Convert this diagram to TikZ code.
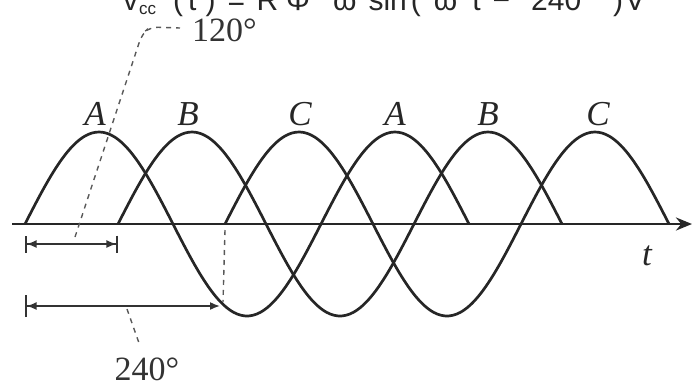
\documentclass[tikz,border=0pt]{standalone}
\usepackage{fontspec}
\setmainfont{Liberation Serif}
\newfontfamily\eqfont{Liberation Sans}
\usetikzlibrary{arrows.meta,positioning,calc}

\begin{document}
\begin{tikzpicture}[
        x=1pt, y=-1pt,
        wave/.style={line width=2.7pt, black!85},
        axisline/.style={line width=2.9pt, black!85, -{Stealth[length=16pt,width=13pt]}},
        dimline/.style={line width=1.6pt, black!80},
        guide/.style={line width=1.4pt, black!65, dash pattern=on 5pt off 5pt},
        phase/.style={font=\fontsize{35}{40}\selectfont\itshape, text=black!85},
        angle/.style={font=\fontsize{34}{40}\selectfont, text=black!80, inner sep=0pt}
    ]
    \useasboundingbox (0,0) rectangle (692,381);

    % Equation (cut off at the top)
    \begin{scope}
        \clip (0,0) rectangle (692,381);
        \node[anchor=base west, inner sep=0pt, text=black!85, font=\eqfont\fontsize{30}{36}\selectfont]
            (eq) at (123,10) {v\kern1pt\raisebox{-4pt}{\fontsize{17}{17}\selectfont cc}\hspace{17pt}(\hspace{5pt}t\hspace{9pt})\hspace{12pt}=\hspace{11.5pt}R\hspace{8pt}Φ\hspace{23pt}ω\hspace{12pt}sin\hspace{4pt}(\hspace{13pt}ω\hspace{15pt}t\hspace{12pt}−\hspace{21pt}240°\hspace{20pt})\hspace{2pt}V};
    \end{scope}

    % Time axis
    \coordinate (o) at (12,224);
    \coordinate (tend) at (692,224);
    \draw[axisline] (o) -- (tend);
    \node[phase] (t) at (647,256) {t};

    % Waves
    \foreach \s in {25, 118, 225} {
        \draw[wave] plot[domain=0:444, samples=120, smooth] ({\s+\x}, {224-92*sin(1.21622*\x)});
    }

    % Phase labels
    \foreach \x/\name [count=\i] in {95/A, 188/B, 300/C, 395/A, 488/B, 598/C} {
        \node[phase] (lab\i) at (\x,114) {\name};
    }

    % 120 degree shift
    \coordinate (a0) at (25,244);
    \coordinate (b0) at (118,244);
    \draw[dimline, {Bar[width=17pt]Latex[length=10pt,width=8pt]}-{Latex[length=10pt,width=8pt]Bar[width=17pt]}] (a0) -- (b0);
    \node[angle, anchor=west] (deg120) at (192,30) {120°};
    \coordinate (g1) at (75,237);
    \coordinate (g1end) at ($(deg120.west)+(-12,-2)$);
    \draw[guide, rounded corners=8pt] (g1) -- (142,34) -- (150,27) -- (g1end);

    % 240 degree shift
    \coordinate (a1) at (25,306);
    \coordinate (c1) at (220,306);
    \draw[dimline, {Bar[width=22pt]Latex[length=10pt,width=8pt]}-{Latex[length=10pt,width=8pt]}] (a1) -- (c1);
    \coordinate (czero) at (225,230);
    \coordinate (cdrop) at (223,302);
    \draw[guide] (czero) -- (cdrop);
    \node[angle] (deg240) at (147,369) {240°};
    \coordinate (g2) at (127,309);
    \coordinate (g3) at (139,343);
    \draw[guide] (g2) -- (g3);

\end{tikzpicture}
\end{document}
